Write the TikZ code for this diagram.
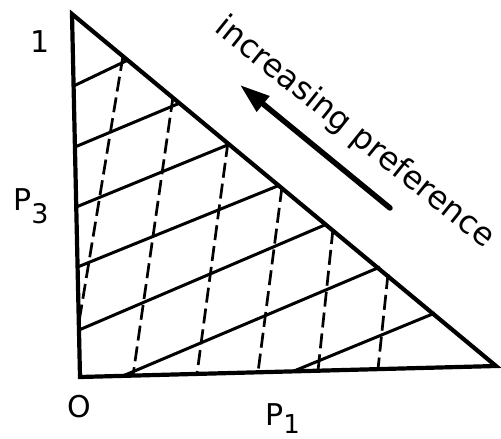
\documentclass[tikz,border=0pt]{standalone}
\usepackage{fontspec}
\setmainfont{DejaVu Sans}
\usetikzlibrary{arrows.meta,calc}
\begin{document}
\begin{tikzpicture}[x=1pt,y=-1pt,
  edge/.style={line width=4.2pt, line join=miter},
  hatch/.style={line width=3pt},
  dashline/.style={line width=2.7pt, dash pattern=on 15pt off 6pt},
  lbl/.style={inner sep=0pt, font=\fontsize{30}{30}\selectfont},
  bigarrow/.style={line width=5.5pt, line cap=round, -{Triangle[length=30pt,width=19pt]}},
  caption/.style={inner sep=0pt, font=\fontsize{32}{32}\selectfont}]
\useasboundingbox (0,0) rectangle (501,439);
% triangle corners
\coordinate (A) at (72,14);
\coordinate (O) at (80,377);
\coordinate (B) at (496,366);
\draw[edge] (A) -- (O) -- (B) -- cycle;
% solid hatch lines
\coordinate (s1a) at (73.6,86);  \coordinate (s1b) at (128,60);
\coordinate (s2a) at (74.9,147); \coordinate (s2b) at (180,103);
\coordinate (s3a) at (76.2,207); \coordinate (s3b) at (230,144);
\coordinate (s4a) at (77.6,267); \coordinate (s4b) at (280,185);
\coordinate (s5a) at (79,330);   \coordinate (s5b) at (327,224);
\coordinate (s6a) at (123,375.9);\coordinate (s6b) at (380,267);
\coordinate (s7a) at (293,371.4);\coordinate (s7b) at (435,313);
\foreach \i in {1,...,7} {\draw[hatch] (s\i a) -- (s\i b);}
% dashed lines
\coordinate (d1a) at (123,56);  \coordinate (d1b) at (79,322);
\coordinate (d2a) at (173,97);  \coordinate (d2b) at (133,375.6);
\coordinate (d3a) at (228,142); \coordinate (d3b) at (197,373.9);
\coordinate (d4a) at (282,187); \coordinate (d4b) at (258,372.3);
\coordinate (d5a) at (333,229); \coordinate (d5b) at (318,370.8);
\coordinate (d6a) at (388,274); \coordinate (d6b) at (378,369.2);
\foreach \i in {1,...,6} {\draw[dashline] (d\i a) -- (d\i b);}
% arrow
\coordinate (arrtail) at (390,208);
\coordinate (arrtip) at (240,85);
\draw[bigarrow] (arrtail) -- (arrtip);
% labels
\node[lbl, anchor=base] (one) at (40,52) {1};
\node[lbl, anchor=base west] (p3) at (13,210) {P\raisebox{-13pt}{\fontsize{27}{27}\selectfont 3}};
\node[lbl, anchor=base] (zero) at (79,417) {O};
\node[lbl, anchor=base west] (p1) at (265,425) {P\raisebox{-8pt}{\fontsize{26}{26}\selectfont 1}};
\node[caption, anchor=base, rotate=-38.8] (pref) at (349,140) {increasing preference};
\end{tikzpicture}
\end{document}
